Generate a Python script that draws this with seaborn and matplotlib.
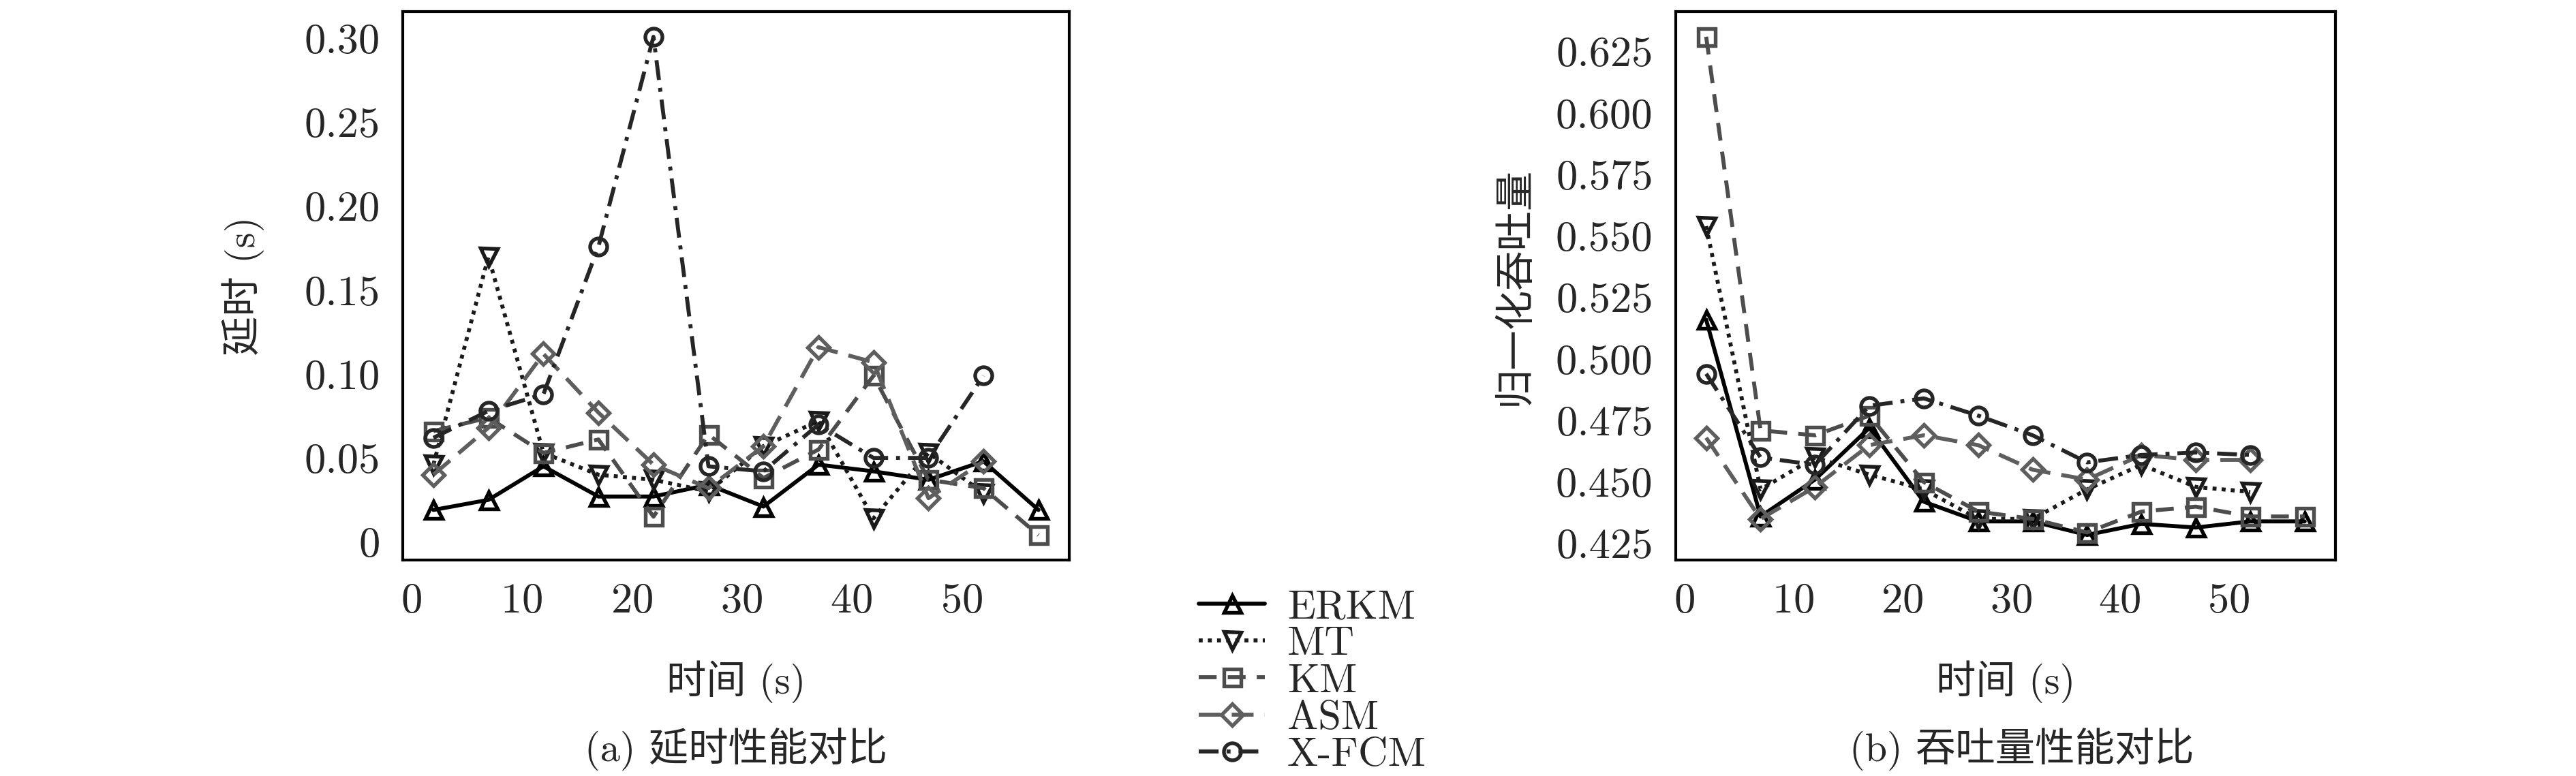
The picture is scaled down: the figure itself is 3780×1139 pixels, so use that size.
import numpy as np
import pandas as pd
import matplotlib
matplotlib.use("Agg")
import matplotlib.pyplot as plt
import seaborn as sns

# time axis (s)
time_s = [2, 7, 12, 17, 22, 27, 32, 37, 42, 47, 52, 57]
methods = ["ERKM", "MT", "KM", "ASM", "X-FCM"]

# (a) delay (s)
delay_erkm = [0.019, 0.025, 0.045, 0.027, 0.027, 0.034, 0.021, 0.046, 0.042, 0.037, 0.048, 0.019]
delay_mt = [0.046, 0.170, 0.053, 0.040, 0.037, 0.030, 0.057, 0.072, 0.014, 0.053, 0.029]
delay_km = [0.066, 0.074, 0.053, 0.061, 0.015, 0.064, 0.038, 0.055, 0.099, 0.037, 0.032, 0.004]
delay_asm = [0.040, 0.068, 0.112, 0.077, 0.046, 0.032, 0.057, 0.116, 0.107, 0.026, 0.048]
delay_xfcm = [0.062, 0.078, 0.088, 0.176, 0.301, 0.045, 0.042, 0.070, 0.050, 0.050, 0.099]

# (b) normalized throughput
thr_erkm = [0.516, 0.436, 0.451, 0.472, 0.442, 0.434, 0.434, 0.4285, 0.433, 0.4315, 0.434, 0.434]
thr_mt = [0.554, 0.447, 0.460, 0.453, 0.447, 0.435, 0.435, 0.447, 0.457, 0.448, 0.446]
thr_km = [0.631, 0.471, 0.469, 0.477, 0.450, 0.438, 0.435, 0.4295, 0.438, 0.440, 0.436, 0.436]
thr_asm = [0.468, 0.435, 0.448, 0.465, 0.469, 0.465, 0.455, 0.451, 0.461, 0.459, 0.459]
thr_xfcm = [0.494, 0.460, 0.457, 0.481, 0.484, 0.477, 0.469, 0.458, 0.461, 0.462, 0.461]

styles = {
    "ERKM": dict(color="#000000", marker="^", linestyle="-"),
    "MT": dict(color="#1a1a1a", marker="v", linestyle=(0, (1, 1.3))),
    "KM": dict(color="#4d4d4d", marker="s", linestyle=(0, (4.5, 2.8))),
    "ASM": dict(color="#5e5e5e", marker="D", linestyle=(0, (5.5, 2.8))),
    "X-FCM": dict(color="#262626", marker="o", linestyle=(0, (5, 2, 1, 2))),
}

font_list = ["cmr10", "Noto Sans CJK SC", "DejaVu Sans"]


def long_table(series):
    rows = []
    for name, vals in zip(methods, series):
        for t, v in zip(time_s, vals):
            rows.append((name, t, v))
    return pd.DataFrame(rows, columns=["method", "time", "value"])


def draw(ax, df):
    for name in methods:
        sub = df[df["method"] == name]
        st = styles[name]
        sns.lineplot(data=sub, x="time", y="value", ax=ax, label=name,
                     color=st["color"], marker=st["marker"],
                     linestyle=st["linestyle"], linewidth=1.4,
                     markersize=6 if st["marker"] != "D" else 5.5,
                     markerfacecolor="none", markeredgecolor=st["color"],
                     markeredgewidth=1.3, legend=False)
    ax.set_xlim(-0.8, 59.8)
    ax.set_xticks([0, 10, 20, 30, 40, 50])
    ax.tick_params(direction="in", length=3, width=0.8, labelsize=15,
                   top=False, right=False, pad=8)
    for sp in ax.spines.values():
        sp.set_linewidth(1.0)
        sp.set_color("black")
    ax.set_xlabel("时间 (s)", fontsize=14, labelpad=14)
    ax.grid(False)


sns.set_style("white")
plt.rcParams["font.family"] = font_list
plt.rcParams["axes.formatter.use_mathtext"] = True
plt.rcParams["axes.unicode_minus"] = False

fig = plt.figure(figsize=(12.6, 3.7967), dpi=300)
ax1 = fig.add_axes([0.1563, 0.278, 0.2588, 0.707])
ax2 = fig.add_axes([0.6505, 0.278, 0.2560, 0.707])

df_delay = long_table([delay_erkm, delay_mt, delay_km, delay_asm, delay_xfcm])
df_thr = long_table([thr_erkm, thr_mt, thr_km, thr_asm, thr_xfcm])

draw(ax1, df_delay)
ax1.set_ylim(-0.011, 0.316)
ax1.set_yticks([0, 0.05, 0.10, 0.15, 0.20, 0.25, 0.30])
ax1.set_yticklabels(["0", "0.05", "0.10", "0.15", "0.20", "0.25", "0.30"])
ax1.set_ylabel("延时 (s)", fontsize=14, labelpad=14)

draw(ax2, df_thr)
ax2.set_ylim(0.4182, 0.6412)
thr_ticks = [0.425, 0.45, 0.475, 0.5, 0.525, 0.55, 0.575, 0.6, 0.625]
ax2.set_yticks(thr_ticks)
ax2.set_yticklabels([f"{v:.3f}" for v in thr_ticks])
ax2.set_ylabel("归一化吞吐量", fontsize=14, labelpad=8)

handles, labels = ax1.get_legend_handles_labels()
fig.legend(handles, labels, loc="upper left", bbox_to_anchor=(0.459, 0.262),
           frameon=False, fontsize=14.5, handlelength=1.6, handletextpad=0.55,
           labelspacing=0.0, borderaxespad=0)

fig.text(0.2857, 0.035, "(a) 延时性能对比", ha="center", va="center", fontsize=14)
fig.text(0.785, 0.035, "(b) 吞吐量性能对比", ha="center", va="center", fontsize=14)

fig.savefig("out.png", dpi=300)
